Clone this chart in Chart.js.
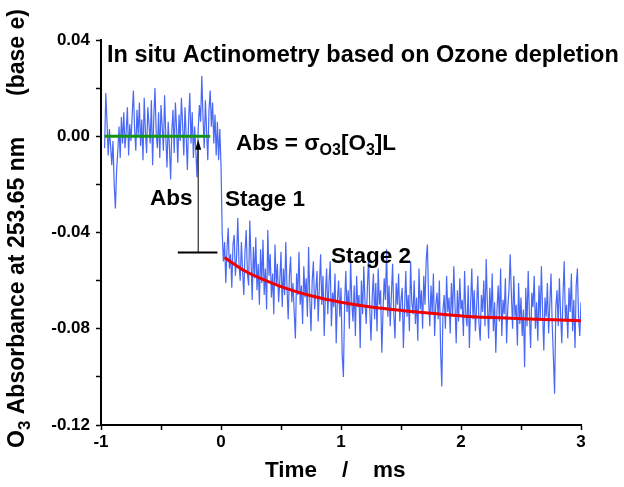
<!DOCTYPE html>
<html>
<head>
<meta charset="utf-8">
<script src="https://cdn.jsdelivr.net/npm/chart.js@4"></script>
<style>
  html, body { margin: 0; padding: 0; background: #fff; }
  #wrap { width: 624px; height: 487px; }
</style>
</head>
<body>
<div id="wrap"><canvas id="myChart" width="624" height="487"></canvas></div>
<script>
// O3 absorbance trace, sampled every 0.01 ms starting at -0.97 ms (values in 1e-3 abs units)
const timeStart = -0.97
const timeStep = 0.01
const preMilli = [
  -5, 18, 6, -8, 3, -4, -12, -2, -20, -30,
  -14, -6, 4, -9, 8, -3, 10, -5, 2, 12,
  -8, 5, -2, 9, 19, 3, -6, 11, 0, 14,
  -4, 7, -10, 16, 2, -7, 12, 5, -3, 15,
  -12, 8, 20, 1, -5, 10, -9, 13, 4, -6,
  17, 0, -13, 6, -4, -18, 2, 11, -7, 14,
  3, -11, 9, -2, 16, 5, -8, 12, 0, -14,
  7, 18, -3, 10, -9, 4, -6, -17, 3, 13,
  6, 25, 8, -5, 15, 2, -10, 11, 19, 4,
  14, -3, 9, -8, 6, -10, 3, -12
]
const postMilli = [
  -40, -52, -44, -61, -47, -38, -55, -49, -63, -45,
  -41, -58, -50, -34, -53, -60, -44, -56, -66, -48,
  -39, -57, -62, -35, -51, -68, -46, -59, -42, -64,
  -53, -70, -47, -61, -43, -66, -55, -72, -39, -58,
  -49, -67, -57, -74, -45, -62, -53, -69, -60, -48,
  -71, -55, -66, -44, -63, -76, -58, -50, -69, -61,
  -73, -84, -57, -66, -48, -70, -62, -78, -54, -67,
  -59, -75, -46, -68, -81, -60, -52, -72, -64, -56,
  -77, -62, -49, -70, -58, -83, -66, -55, -74, -61,
  -52, -79, -65, -71, -57, -86, -68, -60, -75, -63,
  -91, -100, -70, -56, -73, -64, -80, -51, -69, -77,
  -62, -83, -58, -71, -66, -88, -60, -74, -54, -69,
  -78, -63, -50, -72, -85, -67, -57, -76, -61, -81,
  -55, -70, -64, -90, -73, -59, -68, -47, -75, -62,
  -79, -66, -53, -74, -84, -61, -70, -57, -77, -68,
  -63, -88, -71, -56, -75, -66, -81, -52, -69, -74,
  -60, -78, -67, -85, -55, -72, -64, -80, -58, -70,
  -51, -45, -68, -79, -62, -74, -57, -83, -70, -65,
  -76, -60, -89, -104, -72, -66, -80, -58, -73, -67,
  -82, -61, -75, -54, -70, -86, -64, -77, -59, -72,
  -68, -83, -56, -74, -79, -62, -88, -70, -55, -76,
  -64, -81, -71, -58, -78, -85, -66, -73, -60, -79,
  -51, -70, -84, -63, -76, -57, -81, -69, -90, -72,
  -62, -77, -55, -83, -68, -74, -59, -86, -71, -64,
  -49, -66, -80, -58, -75, -70, -87, -61, -78, -67,
  -83, -72, -96, -63, -79, -56, -74, -88, -65, -71,
  -58, -80, -69, -85, -62, -76, -54, -73, -89, -67,
  -75, -61, -82, -70, -57, -78, -92, -107, -71, -64,
  -79, -59, -74, -86, -66, -52, -77, -70, -84, -63,
  -73, -57, -81, -68, -88, -62, -55, -76, -83, -69
]

// baseline fit before the flash (green)
const baseTimes = [-0.97, -0.09]
const baseValues = [0, 0]

// exponential fit of stage 2 (red)
const fitTimes = [0.03, 0.2, 0.4, 0.53, 0.75, 1.0, 1.25, 1.52, 1.75, 2.03, 2.5, 3.0]
const fitValues = [-0.0504, -0.056, -0.0605, -0.063, -0.0663, -0.069, -0.071, -0.0725, -0.0736, -0.0748, -0.0758, -0.0767]

// Abs marker: arrow from baseline down to the stage-1 level
const arrowTime = -0.19
const arrowTop = -0.0015
const stage1Level = -0.0483
const stage1Bar = [-0.36, -0.03]

const xTicks = [-1, 0, 1, 2, 3]
const yTicks = [0.04, 0.00, -0.04, -0.08, -0.12]

const traceMilli = preMilli.concat(postMilli)
let trace = []
for (let i = 0; i < traceMilli.length; i++) {
    trace.push({ x: timeStart + i * timeStep, y: traceMilli[i] / 1000 })
}
let baseLine = []
for (let i = 0; i < baseTimes.length; i++) baseLine.push({ x: baseTimes[i], y: baseValues[i] })
let fitLine = []
for (let i = 0; i < fitTimes.length; i++) fitLine.push({ x: fitTimes[i], y: fitValues[i] })

const FONT = '"Liberation Sans", Arial, sans-serif'

function bold(ctx, size) { ctx.font = 'bold ' + size + 'px ' + FONT }

// draws text with simple subscripts: parts = [[text, isSub], ...]
function drawParts(ctx, parts, x, y, size) {
    ctx.textBaseline = 'middle'
    ctx.textAlign = 'left'
    for (const p of parts) {
        if (p[1]) {
            bold(ctx, Math.round(size * 0.72))
            ctx.fillText(p[0], x, y + size * 0.3)
        } else {
            bold(ctx, size)
            ctx.fillText(p[0], x, y)
        }
        x += ctx.measureText(p[0]).width
    }
}

const textPlugin = {
    id: 'texts',
    afterDatasetsDraw(chart) {
        const ctx = chart.ctx
        const xs = chart.scales.x, ys = chart.scales.y
        ctx.save()
        ctx.fillStyle = '#000'
        ctx.strokeStyle = '#000'

        // arrow + stage 1 bar
        const ax = xs.getPixelForValue(arrowTime)
        const aTop = ys.getPixelForValue(arrowTop)
        const aBot = ys.getPixelForValue(stage1Level)
        ctx.lineWidth = 1
        ctx.beginPath()
        ctx.moveTo(ax, aTop + 6)
        ctx.lineTo(ax, aBot)
        ctx.stroke()
        ctx.beginPath()
        ctx.moveTo(ax, aTop)
        ctx.lineTo(ax - 3, aTop + 10)
        ctx.lineTo(ax + 3, aTop + 10)
        ctx.closePath()
        ctx.fill()
        ctx.lineWidth = 2
        ctx.beginPath()
        ctx.moveTo(xs.getPixelForValue(stage1Bar[0]), aBot)
        ctx.lineTo(xs.getPixelForValue(stage1Bar[1]), aBot)
        ctx.stroke()

        // labels
        drawParts(ctx, [['In situ Actinometry based on Ozone depletion', false]], 107, 56, 23.5)
        drawParts(ctx, [['Abs = \u03C3', false], ['O3', true], ['[O', false], ['3', true], [']L', false]], 236, 144, 22.5)
        drawParts(ctx, [['Abs', false]], 150, 199, 22.5)
        drawParts(ctx, [['Stage 1', false]], 225, 200, 22.5)
        drawParts(ctx, [['Stage 2', false]], 331, 257, 22.5)
        drawParts(ctx, [['Time', false]], 265, 471, 22.5)
        drawParts(ctx, [['/', false]], 342, 471, 22.5)
        drawParts(ctx, [['ms', false]], 373, 471, 22.5)

        // y axis title, rotated
        ctx.translate(18, 448)
        ctx.rotate(-Math.PI / 2)
        drawParts(ctx, [['O', false], ['3', true], [' Absorbance at 253.65 nm', false]], 0, 0, 23)
        drawParts(ctx, [['(base e)', false]], 352, 0, 23)
        ctx.restore()
    }
}

var ctx = document.getElementById('myChart')

var myChart = new Chart(ctx, {
    type: 'line',
    data: {
        datasets: [
            {
                data: trace,
                borderColor: 'rgb(72, 104, 245)',
                borderWidth: 1.2,
                pointRadius: 0,
                tension: 0,
                order: 3
            },
            {
                data: baseLine,
                borderColor: 'rgb(20, 150, 20)',
                borderWidth: 3,
                pointRadius: 0,
                order: 1
            },
            {
                data: fitLine,
                borderColor: 'rgb(240, 0, 0)',
                borderWidth: 3,
                pointRadius: 0,
                cubicInterpolationMode: 'monotone',
                order: 1
            }
        ]
    },
    options: {
        responsive: false,
        animation: false,
        layout: { padding: { top: 40, right: 43, left: 0, bottom: 0 } },
        plugins: { legend: { display: false }, tooltip: { enabled: false } },
        scales: {
            x: {
                type: 'linear',
                min: -1,
                max: 3,
                afterFit(scale) { scale.height = 62 },
                afterBuildTicks(scale) {
                    scale.ticks = []
                    for (let v = -1; v <= 3.001; v += 0.5) scale.ticks.push({ value: Math.round(v * 10) / 10 })
                },
                ticks: {
                    color: '#000',
                    font: { family: FONT, size: 17, weight: 'bold' },
                    padding: 2,
                    maxRotation: 0,
                    autoSkip: false,
                    callback: (v) => xTicks.includes(v) ? String(v) : ''
                },
                grid: { drawOnChartArea: false, color: '#000', tickLength: 5, tickWidth: 1.5 },
                border: { color: '#000', width: 2 }
            },
            y: {
                min: -0.12,
                max: 0.04,
                afterFit(scale) { scale.width = 101 },
                afterBuildTicks(scale) {
                    scale.ticks = []
                    for (let k = 2; k >= -6; k--) scale.ticks.push({ value: k * 0.02 })
                },
                ticks: {
                    color: '#000',
                    font: { family: FONT, size: 17, weight: 'bold' },
                    padding: 6,
                    autoSkip: false,
                    callback: (v) => {
                        for (const t of yTicks) if (Math.abs(t - v) < 1e-9) return t.toFixed(2)
                        return ''
                    }
                },
                grid: { drawOnChartArea: false, color: '#000', tickLength: 5, tickWidth: 1.5 },
                border: { color: '#000', width: 2 }
            }
        }
    },
    plugins: [textPlugin]
});
</script>
</body>
</html>
